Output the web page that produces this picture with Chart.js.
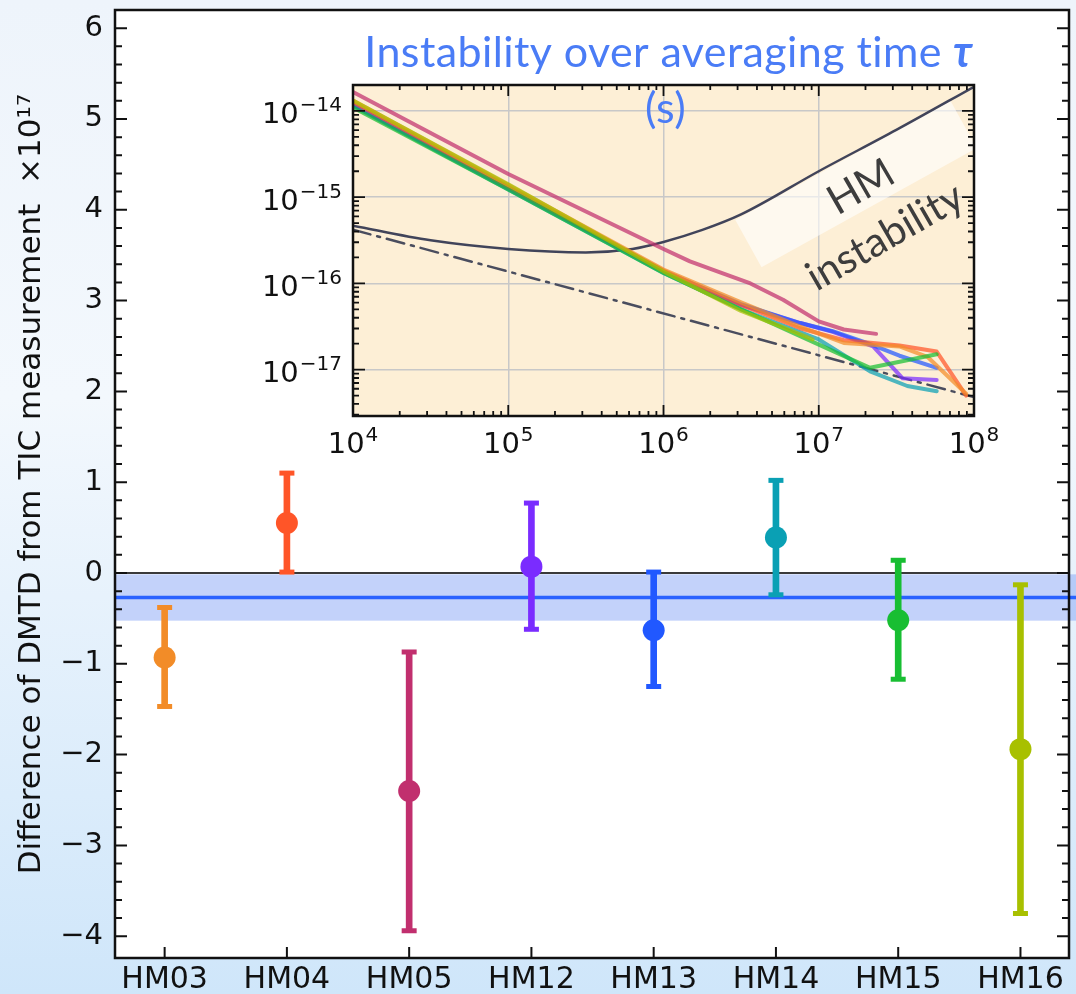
<!DOCTYPE html>
<html>
<head>
<meta charset="utf-8">
<script src="https://cdn.jsdelivr.net/npm/chart.js@4/dist/chart.umd.min.js"></script>
<style>
  html, body { margin: 0; padding: 0; }
  body {
    width: 1076px; height: 994px; position: relative; overflow: hidden;
    background: linear-gradient(to bottom, #eef4fb 0%, #f3f8fd 40%, #cfe6fa 100%);
  }
  #main { position: absolute; left: 0; top: 0; }
  #inset { position: absolute; left: 240px; top: 20px; }
</style>
</head>
<body>
<canvas id="main" width="1076" height="994"></canvas>
<canvas id="inset" width="780" height="440"></canvas>
<script>
// DMTD - TIC offsets per station (x1e-17), with error bars
const stations = ['HM03', 'HM04', 'HM05', 'HM12', 'HM13', 'HM14', 'HM15', 'HM16'];
const diffValues = [-0.93, 0.55, -2.40, 0.07, -0.63, 0.39, -0.52, -1.94];
const diffLower = [-1.47, 0.01, -3.94, -0.62, -1.25, -0.24, -1.17, -3.75];
const diffUpper = [-0.38, 1.10, -0.87, 0.77, 0.01, 1.02, 0.14, -0.13];
const stationColors = ['#f28c28', '#ff5528', '#c12f6e', '#7a2cff', '#2158ff', '#0aa0b4', '#18be32', '#a8c000'];

// weighted mean and its uncertainty band
const weightedMean = -0.27;
const meanBand = [-0.525, -0.015];

// inset: Allan deviation vs averaging time for each station
const tauHM03 = [1e4, 1e5, 1e6, 3.16e6, 7.59e6, 1.45e7, 3.31e7, 5.01e7, 8.9e7];
const adevHM03 = [1.32e-14, 1.38e-15, 1.45e-16, 6.03e-17, 3.16e-17, 2.04e-17, 1.86e-17, 1.41e-17, 5.25e-18];
const tauHM04 = [1e4, 1e5, 1e6, 3.16e6, 7.59e6, 1.45e7, 3.31e7, 5.75e7, 8.9e7];
const adevHM04 = [1.26e-14, 1.32e-15, 1.41e-16, 5.62e-17, 3.02e-17, 2.19e-17, 1.91e-17, 1.62e-17, 5.0e-18];
const tauHM05 = [1e4, 1e5, 1e6, 1.48e6, 2.29e6, 3.63e6, 5.89e6, 1e7, 1.45e7, 2.34e7];
const adevHM05 = [1.66e-14, 1.86e-15, 2.51e-16, 1.80e-16, 1.35e-16, 1.0e-16, 6.46e-17, 3.63e-17, 2.92e-17, 2.60e-17];
const tauHM12 = [1e4, 1e5, 1e6, 3.16e6, 7.59e6, 1.23e7, 2.24e7, 3.47e7, 5.75e7];
const adevHM12 = [1.20e-14, 1.29e-15, 1.38e-16, 5.62e-17, 3.47e-17, 2.75e-17, 1.86e-17, 7.94e-18, 7.59e-18];
const tauHM13 = [1e4, 1e5, 1e6, 3.16e6, 7.59e6, 1.23e7, 2.04e7, 3.31e7, 5.75e7];
const adevHM13 = [1.17e-14, 1.26e-15, 1.38e-16, 5.75e-17, 3.47e-17, 2.79e-17, 2.04e-17, 1.45e-17, 1.05e-17];
const tauHM14 = [1e4, 1e5, 1e6, 3.16e6, 1e7, 2.14e7, 3.72e7, 5.75e7];
const adevHM14 = [1.15e-14, 1.23e-15, 1.32e-16, 5.01e-17, 2.24e-17, 9.55e-18, 6.46e-18, 5.62e-18];
const tauHM15 = [1e4, 1e5, 1e6, 3.16e6, 7.59e6, 2.14e7, 5.75e7];
const adevHM15 = [1.10e-14, 1.23e-15, 1.32e-16, 5.01e-17, 2.45e-17, 1.05e-17, 1.51e-17];
const tauHM16 = [1e4, 1e5, 1e6, 3.16e6, 5.89e6, 9.12e6];
const adevHM16 = [1.32e-14, 1.41e-15, 1.38e-16, 4.79e-17, 3.09e-17, 2.24e-17];

// hydrogen maser instability and the white-noise reference slope
const tauMaser = [1e4, 3.16e4, 1e5, 3.16e5, 6.31e5, 1e6, 1.78e6, 3.16e6, 1e7, 3.16e7, 1e8];
const adevMaser = [4.68e-16, 3.16e-16, 2.51e-16, 2.29e-16, 2.51e-16, 3.02e-16, 4.17e-16, 6.31e-16, 2.0e-15, 6.03e-15, 1.91e-14];
const tauSlope = [1e4, 1e8];
const adevSlope = [4.2e-16, 4.8e-18];

const tauDecades = [1e4, 1e5, 1e6, 1e7, 1e8];
const adevDecades = [1e-17, 1e-16, 1e-15, 1e-14];

function isInt(v) { return Math.abs(v - Math.round(v)) < 1e-6; }
function decadeIndex(list, v) {
  return list.findIndex(d => Math.abs(Math.log10(v) - Math.log10(d)) < 1e-6);
}
function expOf(v) {
  return String(Math.round(Math.log10(v))).replace('-', '\u2212');
}
function hexToRgba(hex, a) {
  const n = parseInt(hex.slice(1), 16);
  return `rgba(${n >> 16}, ${(n >> 8) & 255}, ${n & 255}, ${a})`;
}
// keep the plot box where the layout padding puts it (no room reserved for label overhang)
function noOverhang(s) {
  s.paddingTop = 0; s.paddingBottom = 0; s.paddingLeft = 0; s.paddingRight = 0;
}

// white/beige plot background, inward ticks on the chosen sides, black frame
function frameTicks(opt) {
  return {
    id: opt.id,
    beforeDraw(chart) {
      const { ctx, chartArea: a } = chart;
      ctx.save();
      ctx.fillStyle = opt.background;
      ctx.fillRect(a.left, a.top, a.width, a.height);
      ctx.restore();
    },
    afterDraw(chart) {
      const { ctx, chartArea: a } = chart;
      ctx.save();
      ctx.strokeStyle = '#111';
      ctx.lineWidth = opt.tickWidth;
      ctx.beginPath();
      ['x', 'y'].forEach(id => {
        const scale = chart.scales[id];
        scale.ticks.forEach(t => {
          if (Math.abs(t.value - scale.min) <= Math.abs(scale.min) * 1e-7) return;
          if (t.value <= scale.min || t.value >= scale.max) return;
          const kind = opt.tickKind(id, t.value);
          if (!kind) return;
          const len = kind === 'major' ? opt.majorLen[id] : opt.minorLen[id];
          const p = scale.getPixelForValue(t.value);
          opt.sides[id].forEach(side => {
            if (side === 'bottom') { ctx.moveTo(p, a.bottom); ctx.lineTo(p, a.bottom - len); }
            if (side === 'top') { ctx.moveTo(p, a.top); ctx.lineTo(p, a.top + len); }
            if (side === 'left') { ctx.moveTo(a.left, p); ctx.lineTo(a.left + len, p); }
            if (side === 'right') { ctx.moveTo(a.right, p); ctx.lineTo(a.right - len, p); }
          });
        });
      });
      ctx.stroke();
      ctx.lineWidth = opt.frameWidth;
      ctx.strokeRect(a.left, a.top, a.width, a.height);
      ctx.restore();
    }
  };
}

// mean uncertainty band, runs on past the right frame to the page edge
const bandPlugin = {
  id: 'meanBand',
  beforeDatasetsDraw(chart) {
    const { ctx, chartArea: a, scales: { y } } = chart;
    const top = y.getPixelForValue(meanBand[1]);
    const bottom = y.getPixelForValue(meanBand[0]);
    ctx.save();
    ctx.fillStyle = 'rgba(122, 155, 243, 0.45)';
    ctx.fillRect(a.left, top, chart.width - a.left, bottom - top);
    ctx.restore();
  }
};

const xMin = -0.406, xMax = 7.397;

const mainChart = new Chart(document.getElementById('main'), {
  type: 'scatter',
  data: {
    datasets: [
      {
        // markers
        data: stations.map((s, i) => ({ x: i, y: diffValues[i] })),
        pointRadius: 11,
        pointBackgroundColor: stationColors,
        pointBorderWidth: 0,
        order: 0
      },
      {
        // error bar caps
        data: stations.flatMap((s, i) => [{ x: i, y: diffLower[i] }, { x: i, y: diffUpper[i] }]),
        pointStyle: 'line',
        pointRadius: 7.5,
        pointBorderWidth: 5,
        pointBorderColor: stationColors.flatMap(c => [c, c]),
        order: 1
      },
      {
        // error bar stems
        type: 'bar',
        data: stations.map((s, i) => ({ x: i, y: [diffLower[i], diffUpper[i]] })),
        backgroundColor: stationColors,
        borderWidth: 0,
        barThickness: 6,
        order: 2
      },
      {
        type: 'line',
        data: [{ x: xMin, y: weightedMean }, { x: xMax + 1, y: weightedMean }],
        borderColor: '#2a62ff',
        borderWidth: 3.5,
        pointRadius: 0,
        clip: { left: 0, top: 0, right: 8, bottom: 0 },
        order: 3
      },
      {
        type: 'line',
        data: [{ x: xMin, y: 0 }, { x: xMax, y: 0 }],
        borderColor: '#3a3a3a',
        borderWidth: 2.2,
        pointRadius: 0,
        order: 4
      }
    ]
  },
  options: {
    responsive: false,
    animation: false,
    layout: { autoPadding: false, padding: { top: 10, right: 7, left: 0, bottom: 0 } },
    plugins: { legend: { display: false }, tooltip: { enabled: false } },
    scales: {
      x: {
        type: 'linear',
        min: xMin,
        max: xMax,
        offset: false,
        grid: { display: false, drawTicks: false, offset: false },
        border: { display: false },
        afterBuildTicks: s => { s.ticks = stations.map((name, i) => ({ value: i })); },
        ticks: {
          autoSkip: false,
          maxRotation: 0,
          padding: 4,
          color: '#111',
          font: { family: 'DejaVu Sans', size: 30 },
          callback: v => stations[Math.round(v)]
        },
        afterFit: s => { s.height = 36; noOverhang(s); }
      },
      y: {
        type: 'linear',
        min: -4.24,
        max: 6.2,
        grid: { display: false, drawTicks: false },
        border: { display: false },
        ticks: {
          stepSize: 0.2,
          autoSkip: false,
          padding: 12,
          color: '#111',
          font: { family: 'DejaVu Sans', size: 29 },
          callback: v => isInt(v) ? (Math.round(v) < 0 ? '\u2212' + Math.abs(Math.round(v)) : String(Math.round(v))) : ''
        },
        title: {
          display: true,
          text: 'Difference of DMTD from TIC measurement  \u00d710\u00b9\u2077',
          color: '#111',
          font: { family: 'DejaVu Sans', size: 31 },
          padding: { top: 13, bottom: 0 }
        },
        afterFit: s => { s.width = 115; noOverhang(s); }
      }
    }
  },
  plugins: [bandPlugin, frameTicks({
    id: 'mainFrame',
    background: '#ffffff',
    tickWidth: 2,
    frameWidth: 2.5,
    majorLen: { x: 11, y: 12 },
    minorLen: { x: 0, y: 7 },
    sides: { x: ['bottom'], y: ['left', 'right'] },
    tickKind: (id, v) => id === 'x' ? 'major' : (isInt(v) ? 'major' : (isInt(v * 5) ? 'minor' : null))
  })]
});

// ---- inset: stability over averaging time ----
const insetSeries = [
  [tauHM03, adevHM03], [tauHM04, adevHM04], [tauHM05, adevHM05], [tauHM12, adevHM12],
  [tauHM13, adevHM13], [tauHM14, adevHM14], [tauHM15, adevHM15], [tauHM16, adevHM16]
];
// stacking of the curves, topmost first
const insetStack = [2, 7, 6, 0, 1, 4, 3, 5];

// draws "10" with a raised exponent, anchored by align at (x, y baseline)
function drawPower(ctx, v, x, y, align) {
  const base = '10', exp = expOf(v);
  ctx.font = '29px "DejaVu Sans"';
  const wb = ctx.measureText(base).width;
  ctx.font = '20px "DejaVu Sans"';
  const we = ctx.measureText(exp).width;
  const w = wb + we + 1;
  const x0 = align === 'right' ? x - w : x - w / 2;
  ctx.textAlign = 'left';
  ctx.textBaseline = 'alphabetic';
  ctx.font = '29px "DejaVu Sans"';
  ctx.fillText(base, x0, y);
  ctx.font = '20px "DejaVu Sans"';
  ctx.fillText(exp, x0 + wb + 1, y - 12);
}

const insetLabels = {
  id: 'insetLabels',
  beforeDatasetsDraw(chart) {
    const { ctx, chartArea: a } = chart;
    ctx.save();
    ctx.beginPath();
    ctx.rect(a.left, a.top, a.width, a.height);
    ctx.clip();
    ctx.translate(a.right - 118, a.top + 99);
    ctx.rotate(-29 * Math.PI / 180);
    ctx.fillStyle = 'rgba(255, 255, 255, 0.6)';
    ctx.fillRect(-123, -27, 246, 54);
    ctx.restore();

    ctx.save();
    ctx.fillStyle = '#3d3d3d';
    ctx.font = '41px Lato';
    ctx.textAlign = 'center';
    ctx.textBaseline = 'middle';
    [['HM', -113, 102], ['instability', -89, 152]].forEach(([txt, dx, dy]) => {
      ctx.save();
      ctx.translate(a.right + dx, a.top + dy);
      ctx.rotate(-30 * Math.PI / 180);
      ctx.fillText(txt, 0, 0);
      ctx.restore();
    });
    ctx.restore();
  },
  afterDraw(chart) {
    const { ctx, chartArea: a, scales: { x, y } } = chart;
    ctx.save();
    ctx.fillStyle = '#111';
    tauDecades.forEach(v => drawPower(ctx, v, x.getPixelForValue(v), a.bottom + 37, 'center'));
    adevDecades.forEach(v => drawPower(ctx, v, a.left - 11, y.getPixelForValue(v) + 12.5, 'right'));
    ctx.restore();

    // axis caption over the inset
    const cx = (a.left + a.right) / 2 + 5;
    ctx.save();
    ctx.fillStyle = '#4a7cf6';
    ctx.textBaseline = 'alphabetic';
    ctx.letterSpacing = '0.4px';
    const main = 'Instability over averaging time ';
    ctx.font = '43px Lato';
    const w1 = ctx.measureText(main).width;
    ctx.font = 'italic bold 43px Lato';
    const w2 = ctx.measureText('\u03c4').width;
    const x0 = cx - (w1 + w2) / 2;
    ctx.font = '43px Lato';
    ctx.textAlign = 'left';
    ctx.fillText(main, x0, a.top - 18);
    ctx.font = 'italic bold 43px Lato';
    ctx.fillText('\u03c4', x0 + w1, a.top - 18);
    ctx.font = '43px Lato';
    ctx.textAlign = 'center';
    ctx.fillText('(s)', cx - 3, a.top + 38);
    ctx.restore();
  }
};

const insetChart = new Chart(document.getElementById('inset'), {
  type: 'line',
  data: {
    datasets: [
      ...insetStack.map((k, n) => ({
        data: insetSeries[k][0].map((t, i) => ({ x: t, y: insetSeries[k][1][i] })),
        borderColor: hexToRgba(stationColors[k], 0.72),
        borderWidth: 4,
        order: n
      })),
      {
        data: tauMaser.map((t, i) => ({ x: t, y: adevMaser[i] })),
        borderColor: '#41445a',
        borderWidth: 2.5,
        cubicInterpolationMode: 'monotone',
        order: 20
      },
      {
        data: tauSlope.map((t, i) => ({ x: t, y: adevSlope[i] })),
        borderColor: '#4a4d5e',
        borderWidth: 2.5,
        borderDash: [18, 7, 3, 7],
        order: 21
      }
    ]
  },
  options: {
    responsive: false,
    animation: false,
    layout: { autoPadding: false, padding: { top: 65, right: 46, left: 0, bottom: 0 } },
    plugins: { legend: { display: false }, tooltip: { enabled: false } },
    elements: {
      point: { radius: 0 },
      line: { borderJoinStyle: 'round', borderCapStyle: 'round' }
    },
    scales: {
      x: {
        type: 'logarithmic',
        min: 1e4,
        max: 1e8,
        grid: {
          drawTicks: false,
          lineWidth: 1.5,
          color: c => (c.tick && decadeIndex(tauDecades, c.tick.value) >= 0) ? '#c8c8c8' : 'rgba(0,0,0,0)'
        },
        border: { display: false },
        ticks: { display: false, autoSkip: false },
        afterFit: s => { s.height = 44; noOverhang(s); }
      },
      y: {
        type: 'logarithmic',
        min: 2.9e-18,
        max: 2.0e-14,
        grid: {
          drawTicks: false,
          lineWidth: 1.5,
          color: c => (c.tick && decadeIndex(adevDecades, c.tick.value) >= 0) ? '#c8c8c8' : 'rgba(0,0,0,0)'
        },
        border: { display: false },
        ticks: { display: false, autoSkip: false },
        afterFit: s => { s.width = 113; noOverhang(s); }
      }
    }
  },
  plugins: [insetLabels, frameTicks({
    id: 'insetFrame',
    background: '#fdefd6',
    tickWidth: 1.8,
    frameWidth: 2.5,
    majorLen: { x: 11, y: 12 },
    minorLen: { x: 5, y: 6 },
    sides: { x: ['bottom', 'top'], y: ['left', 'right'] },
    tickKind: (id, v) => {
      const m = v / Math.pow(10, Math.floor(Math.log10(v) + 1e-9));
      if (!isInt(m)) return null;
      return Math.round(m) === 1 || Math.round(m) === 10 ? 'major' : 'minor';
    }
  })]
});
</script>
</body>
</html>
